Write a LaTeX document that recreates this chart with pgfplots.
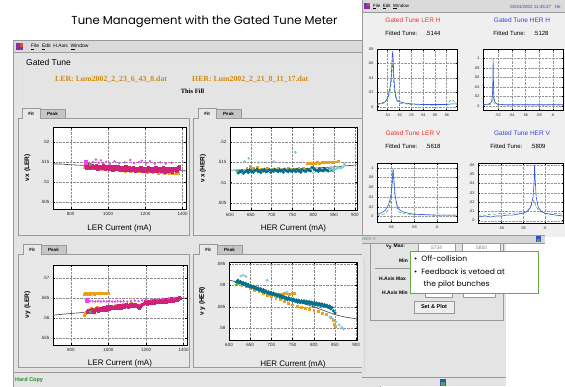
\documentclass[border=0pt]{standalone}
\usepackage{pgfplots}
\pgfplotsset{compat=1.18}
\usepackage{fontspec}
\setmainfont{Liberation Sans}
\newfontfamily\titlefont{Poppins}
\newfontfamily\serifb{Liberation Serif}
\definecolor{winbg}{HTML}{E4E4E4}
\definecolor{rwbg}{HTML}{EFEFEF}
\definecolor{menubg}{HTML}{DADADA}
\definecolor{edge}{HTML}{9A9A9A}
\definecolor{cOr}{HTML}{E8A020}
\definecolor{cCr}{HTML}{CC2277}
\definecolor{cPk}{HTML}{EE44EE}
\definecolor{cTl}{HTML}{00708C}
\definecolor{cCy}{HTML}{80CCD6}
\definecolor{cGn}{HTML}{33CC33}
\definecolor{cBl}{HTML}{3355DD}
\definecolor{cDg}{HTML}{339933}
\definecolor{tRed}{HTML}{EE3333}
\definecolor{tBlue}{HTML}{3344DD}
\definecolor{fileor}{HTML}{D08A10}
\definecolor{callg}{HTML}{66AA44}
\definecolor{icP}{HTML}{8030A0}
\definecolor{icR}{HTML}{E04040}
\definecolor{icB}{HTML}{3050C0}
\definecolor{icG}{HTML}{40B040}
\definecolor{tabg}{HTML}{C6C6C6}
\definecolor{panbg}{HTML}{E8E8E8}
\definecolor{hcg}{HTML}{2A8A2A}
\definecolor{herv}{HTML}{7FB07F}
\definecolor{barbg}{HTML}{D8D8D8}
\definecolor{btn}{HTML}{EEEEEE}
\pgfplotsset{
  scat/.style={
    scale only axis, anchor=north west,
    axis background/.style={fill=white},
    axis line style={black, line width=0.5pt},
    grid=major, grid style={densely dotted, black!45, line width=0.3pt},
    tick align=inside, major tick length=2pt,
    tick style={black, line width=0.4pt},
    scaled ticks=false,
    tick label style={font=\fontsize{4.5}{5}\selectfont, black!85},
    xlabel style={font=\fontsize{8}{9}\selectfont, anchor=center},
    ylabel style={font=\bfseries\fontsize{6.5}{7}\selectfont, anchor=center},
    clip=true,
  },
  spec/.style={
    scale only axis, anchor=north west,
    axis background/.style={fill=white},
    axis line style={black, line width=0.5pt},
    grid=major, grid style={densely dotted, black!40, line width=0.3pt},
    tick align=inside, major tick length=1.5pt,
    tick style={black, line width=0.4pt},
    scaled ticks=false,
    tick label style={font=\fontsize{3.8}{4}\selectfont, black!85},
    clip=true,
  },
}
\begin{document}
\begin{tikzpicture}
\useasboundingbox (0pt,0pt) rectangle (565pt,-386pt);
\clip (0pt,0pt) rectangle (565pt,-386pt);
\begin{scope}[x=1pt,y=-1pt]
\fill[white] (0,0) rectangle (565,386);
\node[font=\titlefont\fontsize{11.6}{14}\selectfont] at (204.5,22) {Tune Management with the Gated Tune Meter};
% ---------- left window
\fill[winbg] (13,40) rectangle (380,390);
\draw[edge] (13,40) rectangle (380,390);
\fill[menubg] (13.5,40.5) rectangle (380,52);
\fill[icP] (16,43) rectangle (23,50);
\fill[icR] (19.5,43) rectangle (23,46.5);
\node[anchor=west, font=\fontsize{5}{6}\selectfont, inner sep=0] at (31,46.5) {\underline{F}ile \ \underline{E}dit \ H.Axis \ \underline{W}indow};
\draw[edge] (13,52.5) -- (380,52.5);
% group box
\draw[white!70!edge] (25,63) -- (16,63) -- (16,369) -- (372,369) -- (372,63) -- (84,63);
\node[anchor=west, font=\fontsize{8.5}{9}\selectfont, inner sep=0] at (26,62.5) {Gated Tune};
\node[anchor=west, font=\serifb\bfseries\fontsize{7.8}{9}\selectfont, text=fileor, inner sep=0] at (55,79) {LER: Lum2002\_2\_23\_6\_43\_8.dat};
\node[anchor=west, font=\serifb\bfseries\fontsize{7.8}{9}\selectfont, text=fileor, inner sep=0] at (192,79) {HER: Lum2002\_2\_21\_8\_11\_17.dat};
\node[font=\serifb\bfseries\fontsize{6.5}{8}\selectfont, inner sep=0] at (192.5,91) {This Fill};
% tabs & panels
\foreach \px/\py/\pw/\ph in {18/118/171/117, 193/118/180/117, 18/254/171/113, 193/254/180/113}{
  \fill[panbg] (\px,\py) rectangle ++(\pw,\ph);
  \draw[edge] (\px,\py) rectangle ++(\pw,\ph);
}
\foreach \tx/\ty in {22/108, 198/108, 23/244, 199/244}{
  \fill[tabg] (\tx+18,\ty+1) rectangle ++(25,9);
  \draw[edge] (\tx+18,\ty+1) rectangle ++(25,9);
  \fill[panbg] (\tx,\ty) rectangle ++(18,10.5);
  \draw[edge] (\tx,\ty+10.5) -- (\tx,\ty) -- (\tx+18,\ty) -- (\tx+18,\ty+10);
  \node[font=\bfseries\fontsize{4.5}{5}\selectfont, inner sep=0] at (\tx+9,\ty+5.5) {Fit};
  \node[font=\bfseries\fontsize{4.5}{5}\selectfont, inner sep=0] at (\tx+30.5,\ty+5.5) {Peak};
}
\draw[edge] (13,372.5) -- (380,372.5);
\node[anchor=west, font=\bfseries\fontsize{5.5}{6}\selectfont, text=hcg, inner sep=0] at (15,380.5) {Hard Copy};
% axis anchors
\coordinate (aTL) at (53,127);
\coordinate (aTR) at (230,127);
\coordinate (aBL) at (53,265);
\coordinate (aBR) at (229,262);
\coordinate (sLH) at (377,49);
\coordinate (sHH) at (483,49);
\coordinate (sLV) at (377,163);
\coordinate (sHV) at (478,163);
\end{scope}

% ================= main scatter plots
\begin{axis}[scat, at={(aTL)}, width=133pt, height=82pt,
  xmin=705, xmax=1418, ymin=0.50325, ymax=0.52375,
  xtick={800,1000,1200,1400}, xticklabels={800,1000,1200,1400},
  ytick={0.505,0.51,0.515,0.52}, yticklabels={.505,.51,.515,.52},
  xlabel={LER Current (mA)}, ylabel={ν\,x (LER)},
  xlabel style={at={(axis description cs:0.5,-0.232)}},
  ylabel style={at={(axis description cs:-0.192,0.5)}}]
\addplot[black!75, line width=0.6pt] coordinates {(705,.5145)(750,.5145)(800,.5143)(850,.5142)(900,.5141)(950,.5139)(1000,.5138)(1050,.5136)(1100,.5135)(1150,.5133)(1200,.5132)(1250,.5131)(1300,.5130)(1350,.5129)(1417,.5128)};
\addplot[only marks, mark=square*, mark size=0.9pt, cOr] coordinates {(870,.5136)(880,.5137)(895,.5135)(910,.5134)(925,.5136)(940,.5133)(955,.5135)(970,.5132)(985,.5134)(1000,.5131)(1015,.5133)(1030,.5130)(1045,.5131)(1060,.5129)(1075,.5131)(1090,.5128)(1105,.5130)(1120,.5127)(1135,.5129)(1150,.5126)(1165,.5128)(1180,.5126)(1195,.5127)(1210,.5125)(1225,.5127)(1240,.5124)(1255,.5126)(1270,.5123)(1285,.5125)(1300,.5122)(1315,.5124)(1330,.5121)(1345,.5123)(1360,.5121)(1375,.5122)};
\addplot[only marks, mark=square*, mark size=1.2pt, cCr] coordinates {(880,.5142)(890,.5139)(900,.5141)(910,.5138)(920,.5140)(930,.5137)(940,.5139)(950,.5136)(960,.5140)(970,.5137)(980,.5138)(990,.5135)(1000,.5138)(1010,.5136)(1020,.5134)(1030,.5137)(1040,.5135)(1050,.5133)(1060,.5136)(1070,.5134)(1080,.5132)(1090,.5135)(1100,.5133)(1110,.5131)(1120,.5134)(1130,.5132)(1140,.5130)(1150,.5133)(1160,.5131)(1170,.5129)(1180,.5132)(1190,.5130)(1200,.5133)(1210,.5131)(1220,.5129)(1230,.5132)(1240,.5130)(1250,.5134)(1260,.5131)(1270,.5129)(1280,.5133)(1290,.5130)(1300,.5128)(1310,.5132)(1320,.5130)(1330,.5128)(1340,.5131)(1350,.5129)(1360,.5133)(1370,.5130)(1380,.5135)};
\addplot[only marks, mark=square*, mark size=1.2pt, cCr] coordinates {(885,.5136)(895,.5143)(905,.5135)(915,.5142)(925,.5134)(935,.5141)(945,.5133)(955,.5140)(965,.5134)(975,.5141)(985,.5132)(995,.5139)(1005,.5133)(1015,.5140)(1025,.5131)(1035,.5138)(1045,.5132)(1055,.5139)(1065,.5130)(1075,.5137)(1085,.5131)(1095,.5138)(1105,.5129)(1115,.5136)(1125,.5130)(1135,.5137)(1145,.5128)(1155,.5135)(1165,.5129)(1175,.5136)(1185,.5128)(1195,.5135)(1205,.5128)(1215,.5136)(1225,.5127)(1235,.5135)(1245,.5128)(1255,.5137)(1265,.5127)(1275,.5135)(1285,.5128)(1295,.5136)(1305,.5126)(1315,.5135)(1325,.5127)(1335,.5134)(1345,.5126)(1355,.5135)(1365,.5127)(1375,.5137)(1380,.5140)};
\addplot[only marks, mark=*, mark size=1pt, cPk] coordinates {(905,.5146)(920,.5150)(935,.5156)(950,.5148)(962,.5154)(975,.5147)(990,.5150)(1010,.5146)(1035,.5152)(1060,.5147)(1090,.5149)(1120,.5155)(1140,.5147)(1165,.5150)(1180,.5153)(1205,.5147)(1225,.5152)(1250,.5146)(1280,.5149)(1310,.5146)(1340,.5148)};
\addplot[only marks, mark=square*, mark size=1.8pt, cPk] coordinates {(880,.5150)};
\addplot[only marks, mark=*, mark size=1.3pt, cGn] coordinates {(905,.5143)};
\end{axis}

\begin{axis}[scat, at={(aTR)}, width=127pt, height=83pt,
  xmin=600, xmax=905, ymin=0.50325, ymax=0.52375,
  xtick={600,650,700,750,800,850,900}, xticklabels={600,650,700,750,800,850,900},
  ytick={0.505,0.51,0.515,0.52}, yticklabels={.505,.51,.515,.52},
  xlabel={HER Current (mA)}, ylabel={ν\,x (HER)},
  xlabel style={at={(axis description cs:0.5,-0.217)}},
  ylabel style={at={(axis description cs:-0.213,0.5)}}]
\addplot[black!75, line width=0.6pt] coordinates {(600,.5131)(650,.5132)(700,.5133)(750,.5134)(800,.5136)(850,.5139)(905,.5144)};
\addplot[only marks, mark=square*, mark size=0.9pt, cOr] coordinates {(640,.5137)(648,.5140)(655,.5135)(665,.5138)(675,.5134)(690,.5136)(700,.5133)(715,.5137)(725,.5134)(740,.5136)(750,.5133)(765,.5135)(775,.5137)(785,.5148)(790,.5148)(795,.5149)(800,.5148)(805,.5149)(810,.5150)(815,.5149)(820,.5150)(825,.5151)(830,.5150)(835,.5151)(840,.5152)(845,.5151)(850,.5152)(855,.5152)(860,.5153)};
\addplot[only marks, mark=*, mark size=1.4pt, cTl] coordinates {(620,.5124)(626,.5127)(632,.5123)(638,.5128)(644,.5125)(650,.5129)(656,.5126)(662,.5130)(668,.5127)(674,.5125)(680,.5129)(686,.5127)(692,.5130)(698,.5126)(704,.5128)(710,.5131)(716,.5127)(722,.5129)(728,.5126)(734,.5130)(740,.5127)(746,.5129)(752,.5131)(758,.5127)(764,.5129)(770,.5126)(776,.5130)(782,.5128)(788,.5131)(794,.5129)(800,.5136)(806,.5130)(812,.5128)(818,.5131)(824,.5129)(830,.5132)(836,.5129)(842,.5131)(848,.5130)};
\addplot[only marks, mark=*, mark size=1.4pt, cTl] coordinates {(623,.5128)(629,.5130)(635,.5126)(641,.5130)(647,.5132)(653,.5127)(659,.5131)(665,.5133)(671,.5129)(677,.5131)(683,.5133)(689,.5128)(695,.5132)(701,.5130)(707,.5133)(713,.5129)(719,.5132)(725,.5130)(731,.5133)(737,.5129)(743,.5132)(749,.5128)(755,.5131)(761,.5133)(767,.5130)(773,.5132)(779,.5129)(785,.5133)(791,.5131)(797,.5138)(803,.5133)(809,.5131)(815,.5134)(821,.5131)(827,.5134)(833,.5131)(839,.5133)(845,.5132)};
\addplot[only marks, mark=*, mark size=1.2pt, cCy] coordinates {(645,.5160)(635,.5152)(668,.5150)(705,.5152)(757,.5175)(800,.5124)(840,.5132)(845,.5135)(850,.5136)(855,.5134)(860,.5137)(865,.5136)(870,.5138)(875,.5146)(848,.5131)(858,.5139)};
\addplot[only marks, mark=*, mark size=1.3pt, cGn] coordinates {(617,.5128)};
\end{axis}

\begin{axis}[scat, at={(aBL)}, width=134pt, height=80pt,
  xmin=705, xmax=1418, ymin=0.55333, ymax=0.57333,
  xtick={800,1000,1200,1400}, xticklabels={800,1000,1200,1400},
  ytick={0.555,0.56,0.565,0.57}, yticklabels={.555,.56,.565,.57},
  xlabel={LER Current (mA)}, ylabel={ν\,y (LER)},
  xlabel style={at={(axis description cs:0.5,-0.225)}},
  ylabel style={at={(axis description cs:-0.19,0.5)}}]
\addplot[black!75, line width=0.6pt] coordinates {(705,.5608)(750,.5610)(800,.5612)(850,.5614)(900,.5617)(950,.5620)(1000,.5624)(1050,.5627)(1100,.5631)(1150,.5634)(1200,.5638)(1250,.5641)(1300,.5644)(1350,.5647)(1417,.5651)};
\addplot[only marks, mark=square*, mark size=0.9pt, cOr] coordinates {(870,.5661)(878,.5662)(886,.5661)(894,.5662)(902,.5661)(910,.5662)(918,.5662)(926,.5661)(934,.5662)(942,.5662)(950,.5663)(958,.5662)(966,.5663)(974,.5663)(982,.5663)(990,.5664)(998,.5663)};
\addplot[only marks, mark=square*, mark size=0.9pt, cOr] coordinates {(870,.5608)(875,.5612)(880,.5615)(890,.5620)(900,.5622)(910,.5625)(925,.5623)(940,.5627)(955,.5625)(970,.5629)(985,.5627)(1000,.5631)(1020,.5629)(1040,.5633)(1060,.5631)(1080,.5635)(1100,.5633)(1120,.5637)(1140,.5635)(1160,.5631)(1170,.5628)(1180,.5636)(1200,.5642)(1220,.5640)(1240,.5644)(1260,.5646)(1280,.5643)(1300,.5647)(1320,.5645)(1340,.5648)(1360,.5646)(1375,.5649)};
\addplot[only marks, mark=square*, mark size=1.2pt, cCr] coordinates {(890,.5617)(900,.5619)(910,.5618)(920,.5621)(930,.5620)(940,.5622)(950,.5621)(960,.5624)(970,.5623)(980,.5625)(990,.5624)(1000,.5627)(1010,.5626)(1020,.5628)(1030,.5627)(1040,.5629)(1050,.5628)(1060,.5630)(1070,.5629)(1080,.5631)(1090,.5630)(1100,.5632)(1110,.5631)(1120,.5633)(1130,.5632)(1140,.5634)(1150,.5632)(1160,.5629)(1170,.5630)(1180,.5635)(1190,.5638)(1200,.5640)(1210,.5639)(1220,.5641)(1230,.5640)(1240,.5642)(1250,.5641)(1260,.5643)(1270,.5642)(1280,.5644)(1290,.5643)(1300,.5645)(1310,.5644)(1320,.5646)(1330,.5645)(1340,.5647)(1350,.5646)(1360,.5648)(1370,.5649)(1380,.5650)};
\addplot[only marks, mark=square*, mark size=1.2pt, cCr] coordinates {(895,.5621)(905,.5615)(915,.5622)(925,.5617)(935,.5624)(945,.5619)(955,.5626)(965,.5621)(975,.5627)(985,.5622)(995,.5629)(1005,.5624)(1015,.5630)(1025,.5625)(1035,.5631)(1045,.5626)(1055,.5632)(1065,.5627)(1075,.5633)(1085,.5628)(1095,.5634)(1105,.5629)(1115,.5635)(1125,.5630)(1135,.5636)(1145,.5630)(1155,.5631)(1165,.5627)(1175,.5633)(1185,.5636)(1195,.5642)(1205,.5637)(1215,.5643)(1225,.5638)(1235,.5644)(1245,.5639)(1255,.5645)(1265,.5640)(1275,.5646)(1285,.5641)(1295,.5647)(1305,.5642)(1315,.5648)(1325,.5643)(1335,.5649)(1345,.5644)(1355,.5650)(1365,.5646)(1375,.5652)};
\addplot[only marks, mark=*, mark size=1pt, cPk] coordinates {(900,.5643)(915,.5643)(930,.5642)(945,.5643)(960,.5642)(975,.5643)(990,.5642)(1005,.5643)(1020,.5642)(1035,.5642)(1050,.5643)(1065,.5642)(1080,.5643)(1100,.5642)(1120,.5643)(1140,.5644)(1160,.5643)(1180,.5645)(1200,.5646)(1230,.5647)(1260,.5648)(1290,.5649)(1320,.5650)(1350,.5651)};
\addplot[only marks, mark=square*, mark size=1.8pt, cPk] coordinates {(885,.5645)};
\addplot[only marks, mark=*, mark size=1.3pt, cGn] coordinates {(905,.5616)};
\end{axis}

\begin{axis}[scat, at={(aBR)}, width=128pt, height=78pt,
  xmin=600, xmax=902, ymin=0.57727, ymax=0.59547,
  xtick={600,650,700,750,800,850,900}, xticklabels={600,650,700,750,800,850,900},
  ytick={0.58,0.585,0.59,0.595}, yticklabels={.58,.585,.59,.595},
  xlabel={HER Current (mA)}, ylabel={ν\,y (HER)},
  xlabel style={at={(axis description cs:0.5,-0.31)}},
  ylabel style={at={(axis description cs:-0.21,0.5)}}]
\addplot[black!75, line width=0.6pt] coordinates {(600,.5913)(625,.5906)(650,.5898)(675,.5890)(700,.5882)(725,.5874)(750,.5866)(775,.5858)(800,.5850)(825,.5841)(850,.5832)(875,.5826)(902,.5822)};
\addplot[only marks, mark=square*, mark size=0.9pt, cOr] coordinates {(620,.5904)(630,.5900)(640,.5897)(650,.5893)(660,.5889)(670,.5886)(680,.5882)(690,.5878)(700,.5874)(710,.5871)(720,.5867)(730,.5863)(740,.5859)(750,.5855)(760,.5852)(770,.5850)(780,.5847)(790,.5845)(800,.5842)(810,.5840)(820,.5836)(830,.5832)(840,.5826)(845,.5818)(848,.5810)(850,.5805)(712,.5880)(718,.5880)(724,.5880)(730,.5881)(736,.5881)(742,.5880)(748,.5881)(754,.5881)};
\addplot[only marks, mark=*, mark size=1.4pt, cTl] coordinates {(618,.5908)(624,.5906)(630,.5904)(636,.5902)(642,.5899)(648,.5897)(654,.5895)(660,.5893)(666,.5891)(672,.5889)(678,.5886)(684,.5884)(690,.5882)(696,.5880)(702,.5879)(708,.5877)(714,.5875)(720,.5873)(726,.5871)(732,.5869)(738,.5867)(744,.5866)(750,.5864)(756,.5863)(762,.5861)(768,.5860)(774,.5860)(780,.5859)(786,.5858)(792,.5857)(798,.5856)(804,.5855)(810,.5854)(816,.5853)(822,.5852)(828,.5851)(834,.5849)(840,.5846)(846,.5841)(850,.5836)};
\addplot[only marks, mark=*, mark size=1.4pt, cTl] coordinates {(621,.5912)(627,.5909)(633,.5907)(639,.5905)(645,.5903)(651,.5900)(657,.5898)(663,.5896)(669,.5894)(675,.5892)(681,.5890)(687,.5887)(693,.5885)(699,.5884)(705,.5882)(711,.5880)(717,.5878)(723,.5876)(729,.5874)(735,.5872)(741,.5871)(747,.5869)(753,.5868)(759,.5866)(765,.5865)(771,.5864)(777,.5864)(783,.5863)(789,.5862)(795,.5861)(801,.5860)(807,.5859)(813,.5858)(819,.5857)(825,.5855)(831,.5854)(837,.5852)(843,.5849)};
\addplot[only marks, mark=*, mark size=1.2pt, cCy] coordinates {(628,.5922)(634,.5924)(640,.5921)(690,.5912)(737,.5884)(838,.5826)(845,.5822)(852,.5815)(860,.5808)(866,.5802)(870,.5798)};
\addplot[only marks, mark=*, mark size=1.3pt, cGn] coordinates {(617,.5902)};
\end{axis}

% ================= right window
\begin{scope}[x=1pt,y=-1pt]
\fill[rwbg] (362,0) rectangle (566,237);
\fill[menubg] (362,0) rectangle (566,12);
\draw[edge] (362,0) -- (362,386);
\fill[icP] (364,3) rectangle (370,9);
\fill[icR] (367,3) rectangle (370,6);
\node[anchor=west, font=\fontsize{4.5}{5}\selectfont, inner sep=0] at (373,6.5) {\underline{F}ile \ \underline{E}dit \ \underline{W}indow};
\node[anchor=west, font=\fontsize{4.5}{5}\selectfont, text=tBlue, inner sep=0] at (510,6.5) {02/24/2002 11:45:27 \ \ He};
\draw[edge] (362,12.5) -- (566,12.5);
\node[font=\fontsize{6.5}{7}\selectfont, text=tRed] at (413,20) {Gated Tune LER H};
\node[font=\fontsize{6.5}{7}\selectfont, text=tBlue] at (522,20) {Gated Tune HER H};
\node[font=\fontsize{6}{7}\selectfont] at (413,33) {Fitted Tune: \quad .5144};
\node[font=\fontsize{6}{7}\selectfont] at (521,33) {Fitted Tune: \quad .5128};
\node[font=\fontsize{6.5}{7}\selectfont, text=tRed] at (413,133) {Gated Tune LER V};
\node[font=\fontsize{6.5}{7}\selectfont, text=tBlue] at (522,133) {Gated Tune HER V};
\node[font=\fontsize{6}{7}\selectfont] at (413,146) {Fitted Tune: \quad .5618};
\node[font=\fontsize{6}{7}\selectfont] at (518,146) {Fitted Tune: \quad .5809};
% lower panel window
\fill[winbg] (362,235) rectangle (506,386);
\fill[white] (506,243) rectangle (566,386);
\fill[barbg] (362,235) rectangle (545,243);
\draw[edge] (362,235) -- (545,235);
\draw[edge] (362,243) -- (545,243);
\node[anchor=west, font=\bfseries\fontsize{4.5}{5}\selectfont, text=herv, inner sep=0] at (362,239) {HER V};
\fill[icB] (536,236) rectangle (541,242);
\fill[icG] (537,239) rectangle (540,242);
\draw[edge] (370,244) -- (370,320) -- (503,320) -- (503,244);
\draw[white!60!edge] (364,258) -- (364,372);
\node[anchor=west, font=\bfseries\fontsize{5}{6}\selectfont, inner sep=0] at (386,247) {ν\textsubscript{y} Max:};
\fill[white] (418,243.5) rectangle (455,251); \draw[edge] (418,243.5) rectangle (455,251);
\node[font=\fontsize{5}{6}\selectfont, text=black!50, inner sep=0] at (436,247.5) {.5734};
\fill[white] (462,243.5) rectangle (500,251); \draw[edge] (462,243.5) rectangle (500,251);
\node[font=\fontsize{5}{6}\selectfont, text=black!50, inner sep=0] at (481,247.5) {.5850};
\node[anchor=west, font=\bfseries\fontsize{5}{6}\selectfont, inner sep=0] at (399,261) {Min};
\draw[edge] (375,268) -- (500,268);
\node[anchor=west, font=\bfseries\fontsize{5}{6}\selectfont, inner sep=0] at (379,279) {H.Axis Max};
\node[anchor=west, font=\bfseries\fontsize{5}{6}\selectfont, inner sep=0] at (382,293) {H.Axis Min};
\fill[white] (425,289) rectangle (452,297); \draw[edge] (425,289) rectangle (452,297);
\node[font=\fontsize{5}{6}\selectfont, text=black!40, inner sep=0] at (438.5,293) {600.0};
\fill[white] (463,289) rectangle (495,297); \draw[edge] (463,289) rectangle (495,297);
\node[font=\fontsize{5}{6}\selectfont, text=black!40, inner sep=0] at (479,293) {600.0};
\fill[btn] (414,301) rectangle (454,313); \draw[edge] (414,301) rectangle (454,313);
\node[font=\bfseries\fontsize{5.5}{6}\selectfont, inner sep=0] at (434,307) {Set \& Plot};
\draw[edge] (362,377) -- (506,377);
\fill[icB] (440,379) rectangle (446,386);
\fill[icG] (441,382) rectangle (445,386);
\end{scope}

% ================= spectra
\begin{axis}[spec, at={(sLH)}, width=80pt, height=61pt,
  xmin=0.501, xmax=0.569, ymin=-0.0046, ymax=0.0804,
  xtick={0.51,0.52,0.53,0.54,0.55,0.56}, xticklabels={.51,.52,.53,.54,.55,.56},
  ytick={0,0.02,0.04,0.06,0.08}, yticklabels={0,.02,.04,.06,.08}]
\addplot[cDg, densely dashed, line width=0.5pt] coordinates {(.501,.003)(.505,.004)(.508,.006)(.510,.010)(.511,.015)(.512,.021)(.513,.032)(.5135,.044)(.514,.056)(.5144,.060)(.5148,.050)(.5152,.035)(.516,.020)(.517,.012)(.518,.008)(.520,.005)(.525,.004)(.530,.003)(.540,.003)(.550,.002)(.560,.003)(.563,.008)(.565,.010)(.567,.006)(.569,.003)};
\addplot[cBl, line width=0.6pt] coordinates {(.501,.004)(.505,.005)(.508,.007)(.510,.012)(.511,.018)(.512,.026)(.513,.040)(.5135,.055)(.514,.072)(.5144,.077)(.5148,.065)(.5152,.045)(.516,.025)(.517,.015)(.518,.010)(.520,.007)(.525,.005)(.530,.004)(.540,.003)(.550,.003)(.560,.003)(.565,.004)(.569,.004)};
\end{axis}

\begin{axis}[spec, at={(sHH)}, width=80pt, height=61pt,
  xmin=0.498, xmax=0.615, ymin=-0.008, ymax=0.119,
  xtick={0.52,0.54,0.56,0.58,0.6}, xticklabels={.52,.54,.56,.58,.6},
  ytick={0,0.02,0.04,0.06,0.08,0.1}, yticklabels={0,.02,.04,.06,.08,.1}]
\addplot[cDg, densely dashed, line width=0.5pt] coordinates {(.498,.002)(.505,.003)(.509,.004)(.511,.008)(.512,.015)(.5125,.030)(.5128,.040)(.5131,.028)(.5135,.012)(.514,.007)(.516,.004)(.520,.003)(.540,.002)(.560,.003)(.580,.002)(.600,.003)(.615,.002)};
\addplot[cBl, line width=0.6pt] coordinates {(.498,.003)(.505,.004)(.509,.006)(.511,.012)(.512,.030)(.5125,.060)(.5128,.100)(.5131,.070)(.5135,.035)(.514,.018)(.515,.010)(.517,.006)(.520,.004)(.530,.003)(.550,.003)(.580,.003)(.600,.003)(.615,.003)};
\end{axis}

\begin{axis}[spec, at={(sLV)}, width=80pt, height=59pt,
  xmin=0.5478, xmax=0.6174, ymin=-0.011, ymax=0.1096,
  xtick={0.56,0.58,0.6}, xticklabels={.56,.58,.6},
  ytick={0,0.02,0.04,0.06,0.08,0.1}, yticklabels={0,.02,.04,.06,.08,.1}]
\addplot[cDg, densely dashed, line width=0.5pt] coordinates {(.548,.002)(.555,.006)(.558,.015)(.560,.035)(.561,.065)(.5615,.090)(.5622,.085)(.563,.050)(.565,.020)(.567,.010)(.570,.006)(.580,.004)(.600,.003)(.6174,.003)};
\addplot[cBl, line width=0.6pt] coordinates {(.548,.005)(.552,.008)(.555,.013)(.558,.025)(.560,.045)(.561,.070)(.5618,.098)(.5625,.075)(.5635,.045)(.565,.025)(.567,.015)(.570,.010)(.575,.007)(.580,.005)(.590,.004)(.600,.003)(.6174,.003)};
\end{axis}

\begin{axis}[spec, at={(sHV)}, width=85pt, height=60pt,
  xmin=0.5383, xmax=0.6167, ymin=-0.0025, ymax=0.062,
  xtick={0.56,0.58,0.6}, xticklabels={.56,.58,.6},
  ytick={0,0.01,0.02,0.03,0.04,0.05,0.06}, yticklabels={0,.01,.02,.03,.04,.05,.06}]
\addplot[cDg, densely dashed, line width=0.5pt] coordinates {(.5383,.006)(.545,.006)(.55,.007)(.555,.007)(.56,.008)(.565,.007)(.57,.008)(.575,.008)(.58,.009)(.585,.012)(.588,.018)(.590,.022)(.592,.015)(.595,.010)(.60,.008)(.605,.007)(.61,.008)(.6167,.007)};
\addplot[cBl, line width=0.6pt] coordinates {(.5383,.004)(.545,.005)(.55,.004)(.555,.005)(.56,.005)(.565,.006)(.57,.006)(.575,.007)(.58,.008)(.584,.010)(.587,.015)(.589,.025)(.590,.040)(.5905,.060)(.591,.045)(.592,.025)(.594,.014)(.597,.010)(.600,.008)(.605,.007)(.61,.006)(.6167,.005)};
\end{axis}

% ================= callout
\begin{scope}[x=1pt,y=-1pt]
\fill[white] (410,251) rectangle (538,293);
\draw[callg, line width=0.9pt] (410,251) rectangle (538,293);
\node[anchor=west, font=\titlefont\fontsize{7.6}{9}\selectfont, inner sep=0] at (414,258.5) {•\ \ Off-collision};
\node[anchor=west, font=\titlefont\fontsize{7.6}{9}\selectfont, inner sep=0] at (414,271.5) {•\ \ Feedback is vetoed at};
\node[anchor=west, font=\titlefont\fontsize{7.6}{9}\selectfont, inner sep=0] at (423.5,284.5) {the pilot bunches};
\end{scope}
\end{tikzpicture}
\end{document}
